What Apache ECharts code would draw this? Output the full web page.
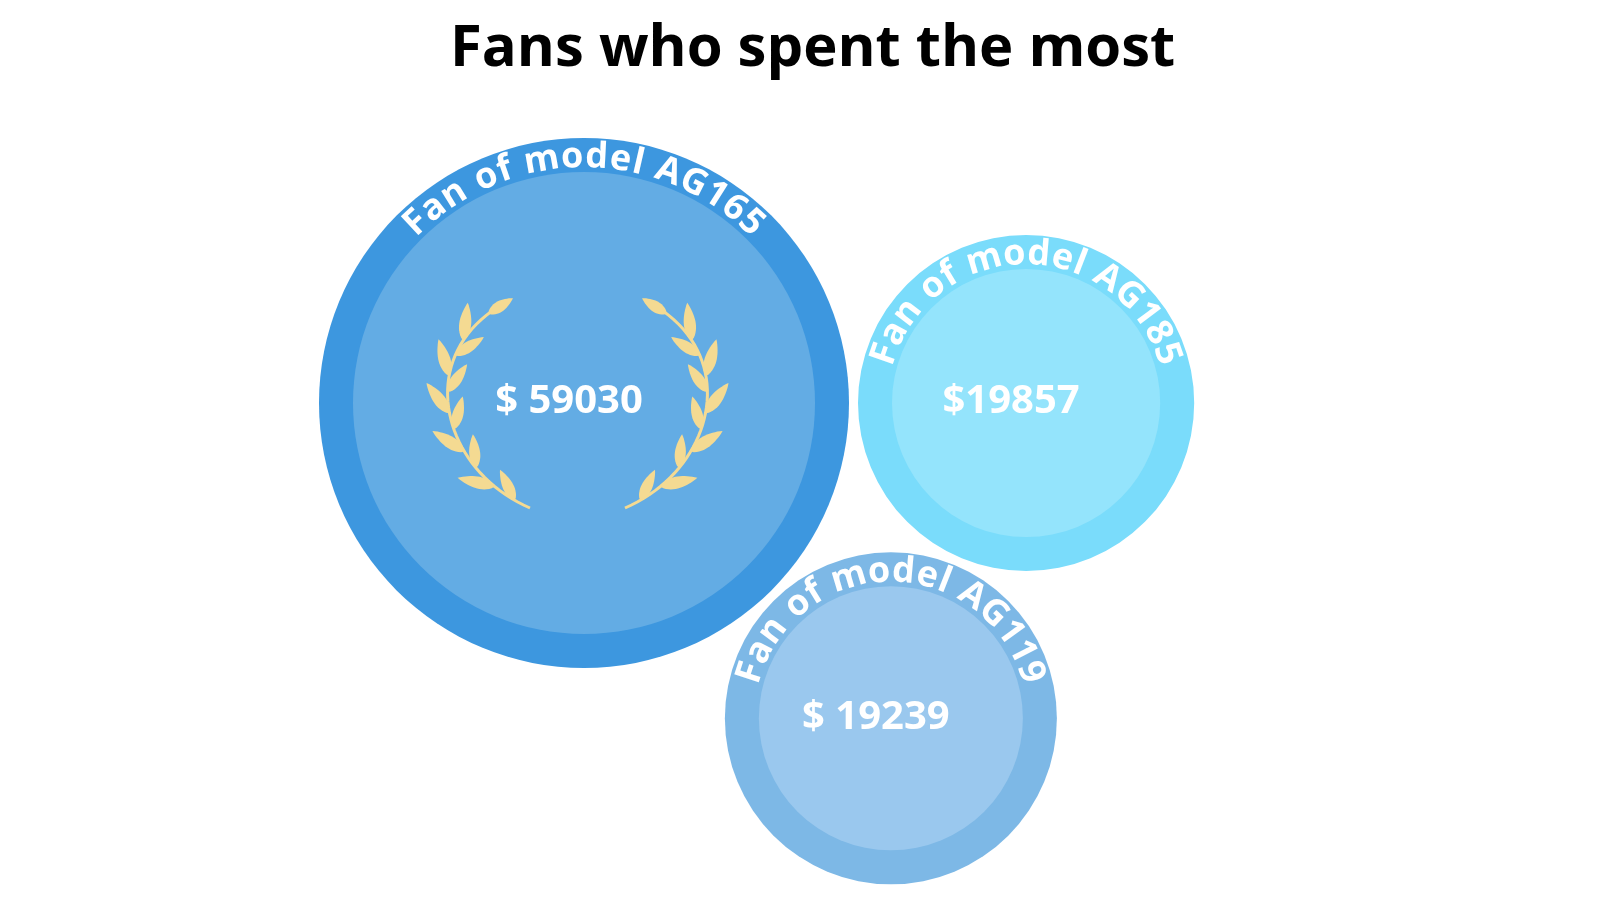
<!DOCTYPE html>
<html><head><meta charset="utf-8">
<script src="https://cdn.jsdelivr.net/npm/echarts@6/dist/echarts.min.js"></script>
<style>html,body{margin:0;padding:0;background:#fff}#main{width:1600px;height:900px}</style>
</head><body><div id="main"></div>
<script>
// ---- data ----
const titleText = 'Fans who spent the most';
const categories = ['Fan of model AG165', 'Fan of model AG185', 'Fan of model AG119'];
const values = [59030, 19857, 19239];
const valuePrefixes = ['$ ', '$', '$ '];

// ---- styles / layout ----
const ringColors = ['#3d97df', '#7adcfb', '#7db8e6'];
const innerColors = ['#63ace4', '#94e4fc', '#9ac8ee'];
const laurelColor = '#f4da92';
const FONT = '"Open Sans", "Noto Sans", sans-serif';
const cfg = {
  firstCenter: [584, 403], rMin: 166, rMax: 265, gap: 9, ring: 34,
  arcFont: 36, arcSpacing: 2.0, arcInset: 19,
  valueFont: 40, valueDx: -15, valueDy: -1
};

function radiusOf(v) {
  const lo = Math.sqrt(Math.min(...values)), hi = Math.sqrt(Math.max(...values));
  return cfg.rMin + (Math.sqrt(v) - lo) / (hi - lo) * (cfg.rMax - cfg.rMin);
}

function computeLayout() {
  const order = values.map((v, i) => i).sort((a, b) => values[b] - values[a]);
  const r = values.map(radiusOf);
  const centers = [];
  const g = cfg.gap;
  const [a, b, c] = order;
  centers[a] = cfg.firstCenter.slice();
  centers[b] = [centers[a][0] + r[a] + r[b] + g, centers[a][1]];
  const d12 = r[a] + r[b] + g, d1 = r[a] + r[c] + g, d2 = r[b] + r[c] + g;
  const along = (d1 * d1 - d2 * d2 + d12 * d12) / (2 * d12);
  const h = Math.sqrt(Math.max(0, d1 * d1 - along * along));
  centers[c] = [centers[a][0] + along, centers[a][1] + h];
  return { r, centers, top: order[0] };
}
const L = computeLayout();

const mctx = document.createElement('canvas').getContext('2d');
function textWidth(t, font) { mctx.font = font; return mctx.measureText(t).width; }

function arcText(text, cx, cy, rc) {
  const font = 'bold ' + cfg.arcFont + 'px ' + FONT;
  const chars = Array.from(text);
  const ws = chars.map(ch => textWidth(ch, font));
  const total = ws.reduce((s, w) => s + w, 0) + cfg.arcSpacing * (chars.length - 1);
  let pos = -total / 2;
  const els = [];
  chars.forEach((ch, i) => {
    const th = (pos + ws[i] / 2) / rc;
    els.push({
      type: 'text', x: cx + rc * Math.sin(th), y: cy - rc * Math.cos(th), rotation: -th,
      style: { text: ch, font: font, fill: '#ffffff', align: 'center', verticalAlign: 'middle' }
    });
    pos += ws[i] + cfg.arcSpacing;
  });
  return els;
}

// laurel geometry relative to circle centre, for radius 265
const stem = [[-54, 105], [-142, 67], [-170, -43], [-86, -96]];
const mirrorAxis = -6.5;
const outerT = [0.15, 0.33, 0.5, 0.66, 0.82];
const innerT = [0.06, 0.25, 0.43, 0.59, 0.75];

function bez(p, t) {
  const u = 1 - t;
  const a = u * u * u, b = 3 * u * u * t, c = 3 * u * t * t, d = t * t * t;
  return [a * p[0][0] + b * p[1][0] + c * p[2][0] + d * p[3][0], a * p[0][1] + b * p[1][1] + c * p[2][1] + d * p[3][1]];
}
function bezD(p, t) {
  const u = 1 - t;
  const f = (k) => 3 * u * u * (p[1][k] - p[0][k]) + 6 * u * t * (p[2][k] - p[1][k]) + 3 * t * t * (p[3][k] - p[2][k]);
  return [f(0), f(1)];
}
function leaf(base, dir, len, wid) {
  const m = Math.hypot(dir[0], dir[1]);
  const u = [dir[0] / m, dir[1] / m], n = [-u[1], u[0]];
  const left = [], right = [];
  const N = 16;
  for (let i = 0; i <= N; i++) {
    const s = i / N;
    const hw = wid / 2 * Math.pow(Math.sin(Math.PI * Math.pow(s, 0.8)), 0.85);
    const px = base[0] + u[0] * len * s, py = base[1] + u[1] * len * s;
    left.push([px + n[0] * hw, py + n[1] * hw]);
    right.push([px - n[0] * hw, py - n[1] * hw]);
  }
  return { type: 'polygon', shape: { points: left.concat(right.reverse()) }, style: { fill: laurelColor } };
}
function rot(v, a) { const c = Math.cos(a), s = Math.sin(a); return [v[0] * c - v[1] * s, v[0] * s + v[1] * c]; }

function branch(cx, cy, k, mirror) {
  const tr = (p) => {
    let x = p[0] * k, y = p[1] * k;
    if (mirror) x = 2 * mirrorAxis * k - x;
    return [cx + x, cy + y];
  };
  const pts = stem.map(tr);
  const els = [];
  const line = [];
  for (let i = 0; i <= 40; i++) line.push(bez(pts, i / 40));
  els.push({ type: 'polyline', shape: { points: line }, style: { stroke: laurelColor, lineWidth: 3 * k, fill: null } });
  const sgn = mirror ? -1 : 1;
  outerT.forEach(t => {
    const d = bezD(pts, t);
    els.push(leaf(bez(pts, t), rot(d, -sgn * 0.46), 38 * k, 12 * k));
  });
  innerT.forEach(t => {
    const d = bezD(pts, t);
    els.push(leaf(bez(pts, t), rot(d, sgn * 0.6), 34 * k, 11 * k));
  });
  els.push(leaf(bez(pts, 0.96), bezD(pts, 1), 29 * k, 11 * k));
  return els;
}

function renderItem(params, api) {
  const i = params.dataIndex;
  const r = L.r[i];
  const [cx, cy] = L.centers[i];
  const children = [
    { type: 'circle', shape: { cx, cy, r }, style: { fill: ringColors[i] } },
    { type: 'circle', shape: { cx, cy, r: r - cfg.ring }, style: { fill: innerColors[i] } }
  ];
  if (i === L.top) {
    const k = r / 265;
    branch(cx, cy, k, false).forEach(e => children.push(e));
    branch(cx, cy, k, true).forEach(e => children.push(e));
  }
  arcText(categories[i], cx, cy, r - cfg.arcInset).forEach(e => children.push(e));
  children.push({
    type: 'text', x: cx + cfg.valueDx, y: cy + cfg.valueDy,
    style: {
      text: valuePrefixes[i] + api.value(0), font: 'bold ' + cfg.valueFont + 'px ' + FONT,
      fill: '#ffffff', align: 'center', verticalAlign: 'middle'
    }
  });
  return { type: 'group', children };
}

const chart = echarts.init(document.getElementById('main'));
chart.setOption({
  backgroundColor: '#ffffff',
  animation: false,
  title: {
    text: titleText, left: 445, top: 15,
    textStyle: { fontFamily: FONT, fontWeight: 'bold', fontSize: 58, color: '#000000' }
  },
  series: [{
    type: 'custom', coordinateSystem: 'none', renderItem,
    data: values.map((v, i) => ({ name: categories[i], value: [v, i] }))
  }]
});
</script></body></html>
